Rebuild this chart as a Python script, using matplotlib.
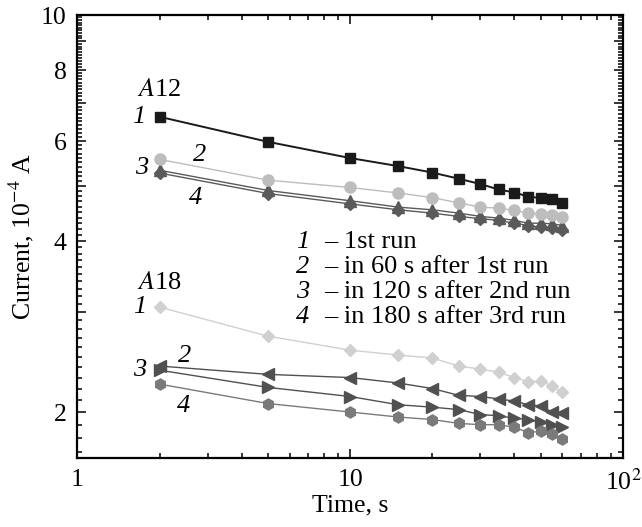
import numpy as np
import matplotlib
matplotlib.use("Agg")
import matplotlib.pyplot as plt
import matplotlib.ticker as mtick

plt.rcParams["font.family"] = ["Liberation Serif", "DejaVu Serif"]
plt.rcParams["mathtext.fontset"] = "stix"

# Tempo (s)
tempo = [2, 5, 10, 15, 20, 25, 30, 35, 40, 45, 50, 55, 60]

# A12, corrente em 10^-4 A
a12_1 = [6.62, 5.98, 5.60, 5.42, 5.28, 5.15, 5.04, 4.93, 4.87, 4.79, 4.76, 4.74, 4.67]
a12_2 = [5.57, 5.12, 4.97, 4.86, 4.77, 4.67, 4.59, 4.57, 4.53, 4.48, 4.47, 4.44, 4.41]
a12_3 = [5.33, 4.91, 4.71, 4.59, 4.54, 4.48, 4.42, 4.39, 4.35, 4.30, 4.30, 4.29, 4.26]
a12_4 = [5.27, 4.85, 4.65, 4.54, 4.48, 4.42, 4.38, 4.35, 4.30, 4.26, 4.23, 4.22, 4.18]

# A18
a18_1 = [3.06, 2.72, 2.57, 2.52, 2.49, 2.41, 2.38, 2.35, 2.30, 2.26, 2.27, 2.22, 2.17]
a18_2 = [2.41, 2.33, 2.30, 2.25, 2.20, 2.14, 2.13, 2.11, 2.09, 2.06, 2.05, 2.00, 1.99]
a18_3 = [2.37, 2.21, 2.13, 2.06, 2.04, 2.02, 1.98, 1.97, 1.95, 1.94, 1.92, 1.90, 1.88]
a18_4 = [2.24, 2.07, 2.00, 1.96, 1.94, 1.91, 1.90, 1.90, 1.88, 1.84, 1.85, 1.83, 1.79]

legenda = [("1", "1st run"),
           ("2", "in 60 s after 1st run"),
           ("3", "in 120 s after 2nd run"),
           ("4", "in 180 s after 3rd run")]

fig = plt.figure(figsize=(6.42, 5.27), dpi=100)
ax = fig.add_axes([0.1207, 0.1309, 0.8497, 0.8406])

# curvas A12
ax.plot(tempo, a12_1, color="#1a1a1a", lw=1.4, marker="s", ms=7.5, zorder=5)
ax.plot(tempo, a12_2, color="#bdbdbd", lw=1.0, marker="o", ms=8, zorder=4)
ax.plot(tempo, a12_3, color="#5a5a5a", lw=1.0, marker="^", ms=8, zorder=3)
ax.plot(tempo, a12_4, color="#5a5a5a", lw=1.0, marker="D", ms=6.5, zorder=3)

# curvas A18
ax.plot(tempo, a18_1, color="#d0d0d0", lw=1.0, marker="D", ms=6.5, zorder=3)
ax.plot(tempo, a18_2, color="#505050", lw=1.0, marker="<", ms=8, zorder=3)
ax.plot(tempo, a18_3, color="#505050", lw=1.0, marker=">", ms=8, zorder=3)
ax.plot(tempo, a18_4, color="#7a7a7a", lw=1.0, marker="h", ms=8, zorder=3)

ax.set_xscale("log")
ax.set_yscale("log")
ax.set_xlim(1, 100)
ax.set_ylim(1.66, 10)

# eixo x
ax.xaxis.set_major_locator(mtick.FixedLocator([1, 10, 100]))
ax.xaxis.set_major_formatter(mtick.FixedFormatter(["1", "10", r"10$^{2}$"]))
ax.xaxis.set_minor_locator(mtick.LogLocator(base=10, subs=np.arange(2, 10)))
ax.xaxis.set_minor_formatter(mtick.NullFormatter())

# eixo y
ax.yaxis.set_major_locator(mtick.FixedLocator([2, 3, 4, 5, 6, 7, 8, 9, 10]))
ax.yaxis.set_major_formatter(mtick.FixedFormatter(["2", "", "4", "", "6", "", "8", "", "10"]))
ax.yaxis.set_minor_locator(mtick.FixedLocator(np.round(np.arange(1.7, 10.0, 0.1), 1)))
ax.yaxis.set_minor_formatter(mtick.NullFormatter())

ax.tick_params(which="both", direction="in", top=True, right=True, labelsize=18.5, width=1.1)
ax.tick_params(which="major", length=6.5)
ax.tick_params(which="minor", length=3.5)
ax.tick_params(axis="x", pad=8)
ax.tick_params(axis="y", pad=8)
for sp in ax.spines.values():
    sp.set_linewidth(1.6)

ax.set_xlabel("Time, s", fontsize=18.5, labelpad=0)
ax.set_ylabel(r"Current, 10$^{-4}$ A", fontsize=18.5, labelpad=3)

fs = 19
# rótulos das curvas
ax.text(2.0, 7.37, r"$\it{A}$12", fontsize=fs, ha="center", va="center")
ax.text(1.67, 6.61, "1", style="italic", fontsize=fs, ha="center", va="center")
ax.text(2.81, 5.68, "2", style="italic", fontsize=fs, ha="center", va="center")
ax.text(1.72, 5.37, "3", style="italic", fontsize=fs, ha="center", va="center")
ax.text(2.70, 4.77, "4", style="italic", fontsize=fs, ha="center", va="center")

ax.text(2.0, 3.37, r"$\it{A}$18", fontsize=fs, ha="center", va="center")
ax.text(1.69, 3.06, "1", style="italic", fontsize=fs, ha="center", va="center")
ax.text(2.48, 2.51, "2", style="italic", fontsize=fs, ha="center", va="center")
ax.text(1.69, 2.37, "3", style="italic", fontsize=fs, ha="center", va="center")
ax.text(2.44, 2.05, "4", style="italic", fontsize=fs, ha="center", va="center")

# legenda em texto
y_leg = [0.4876, 0.431, 0.375, 0.318]
for (num, txt), yy in zip(legenda, y_leg):
    ax.text(0.413, yy, num, style="italic", fontsize=fs, transform=ax.transAxes, ha="center", va="center")
    ax.text(0.452, yy, "\u2013 " + txt, fontsize=fs, transform=ax.transAxes, ha="left", va="center")

fig.savefig("out.png", dpi=100)
